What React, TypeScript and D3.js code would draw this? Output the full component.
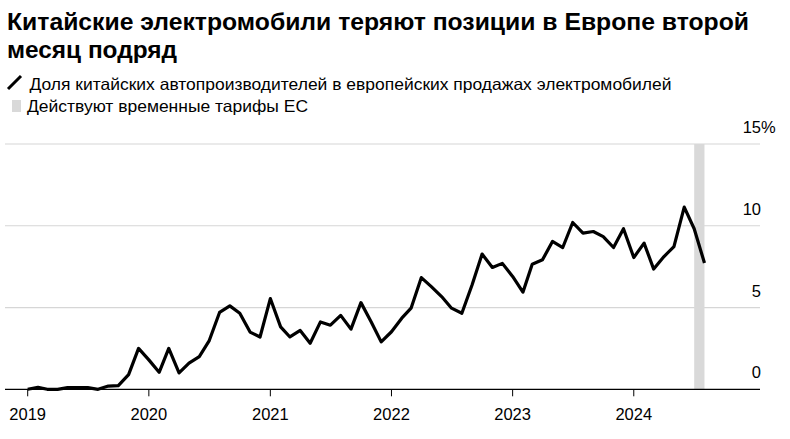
import React from "react";
import * as d3 from "d3";

const title = ["Китайские электромобили теряют позиции в Европе второй", "месяц подряд"];
const legendLine = "Доля китайских автопроизводителей в европейских продажах электромобилей";
const legendBand = "Действуют временные тарифы ЕС";

const startYear = 2019;
const shareValues: number[] = [
  0.0, 0.12, 0.0, 0.0, 0.1, 0.1, 0.1, 0.0, 0.2, 0.22, 0.9, 2.5,
  1.8, 1.04, 2.5, 1.0, 1.6, 2.0, 2.98, 4.7, 5.1, 4.65, 3.5, 3.2,
  5.55, 3.82, 3.2, 3.6, 2.82, 4.12, 3.92, 4.52, 3.68, 5.3, 4.12, 2.9,
  3.52, 4.35, 4.96, 6.83, 6.28, 5.67, 4.96, 4.65, 6.39, 8.27, 7.45, 7.7,
  6.9, 5.94, 7.65, 7.92, 9.04, 8.67, 10.2, 9.55, 9.65, 9.34, 8.67, 9.82,
  8.06, 8.94, 7.35, 8.12, 8.73, 11.14, 9.82, 7.72,
];
const tariffStart = new Date(2024, 6, 1);
const tariffEnd = new Date(2024, 7, 1);
const yTicks = [0, 5, 10, 15];
const xTickYears = [2019, 2020, 2021, 2022, 2023, 2024];

export default function App() {
  const W = 790, H = 439;
  const x = d3.scaleTime()
    .domain([new Date(2019, 0, 1), new Date(2025, 0, 1)])
    .range([27.7, 27.7 + 6 * 121.26]);
  const y = d3.scaleLinear().domain([0, 15]).range([389.3, 144]);
  const gridX0 = 5, gridX1 = 760;

  const data = shareValues.map((v, i) => ({
    date: new Date(startYear + Math.floor(i / 12), i % 12, 1),
    v,
  }));
  const line = d3.line<{ date: Date; v: number }>()
    .x((d) => x(d.date))
    .y((d) => y(d.v));

  const font = "'Liberation Sans', Arial, sans-serif";

  return (
    <div style={{ position: "absolute", left: 0, top: 0 }}>
      <svg width={W} height={H} style={{ display: "block", background: "#fff" }} fontFamily={font}>
        <text x={7} y={29.5} fontSize={24} fontWeight="bold" fill="#000" textLength={742} lengthAdjust="spacingAndGlyphs">{title[0]}</text>
        <text x={7} y={58} fontSize={24} fontWeight="bold" fill="#000" textLength={170} lengthAdjust="spacingAndGlyphs">{title[1]}</text>

        <line x1={8} y1={89} x2={21} y2={76} stroke="#000" strokeWidth={3} />
        <text x={29.5} y={89.5} fontSize={16.5} fill="#000" textLength={642} lengthAdjust="spacingAndGlyphs">{legendLine}</text>
        <rect x={12} y={100} width={9} height={12} fill="#d9d9d9" />
        <text x={27} y={112} fontSize={16.5} fill="#000" textLength={281} lengthAdjust="spacingAndGlyphs">{legendBand}</text>

        {yTicks.filter((t) => t > 0).map((t) => (
          <line key={"g" + t} x1={gridX0} x2={gridX1} y1={y(t)} y2={y(t)} stroke="#d6d6d6" strokeWidth={1.2} />
        ))}

        <rect x={x(tariffStart)} y={y(15)} width={x(tariffEnd) - x(tariffStart)} height={y(0) - y(15)} fill="#d9d9d9" />

        <line x1={gridX0} x2={gridX1} y1={y(0)} y2={y(0)} stroke="#000" strokeWidth={1.2} />

        {xTickYears.map((yr) => {
          const px = x(new Date(yr, 0, 1));
          return (
            <g key={yr}>
              <line x1={px} x2={px} y1={y(0)} y2={y(0) + 7} stroke="#000" strokeWidth={1} />
              <text x={px} y={420} fontSize={16.5} textAnchor="middle" fill="#000">{yr}</text>
            </g>
          );
        })}

        {yTicks.map((t) => (
          <g key={"l" + t}>
            <text x={761} y={y(t) - 11} fontSize={16.5} textAnchor="end" fill="#000">{t}</text>
            {t === 15 ? <text x={761} y={y(t) - 11} fontSize={16.5} fill="#000">%</text> : null}
          </g>
        ))}

        <path d={line(data) || ""} fill="none" stroke="#000" strokeWidth={3.2} strokeLinejoin="round" strokeLinecap="butt" />
      </svg>
    </div>
  );
}
